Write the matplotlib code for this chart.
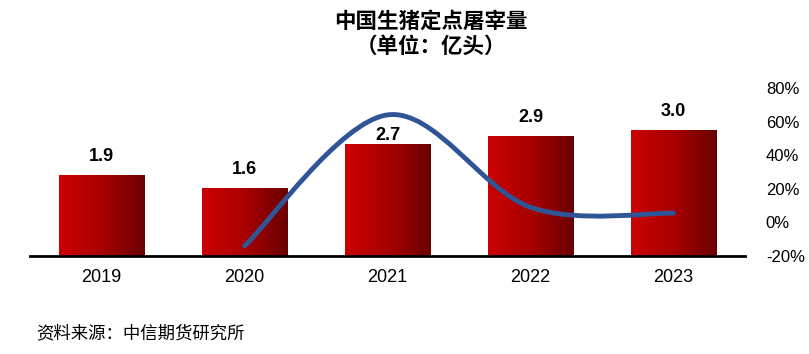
import numpy as np
import matplotlib
matplotlib.use("Agg")
import matplotlib.pyplot as plt
from matplotlib.path import Path
from matplotlib.patches import PathPatch
from matplotlib.colors import LinearSegmentedColormap
from matplotlib.ticker import FuncFormatter

plt.rcParams["font.family"] = ["Liberation Sans", "Noto Sans CJK SC", "DejaVu Sans"]

years = ["2019", "2020", "2021", "2022", "2023"]
slaughter = [1.93, 1.63, 2.67, 2.86, 3.0]
bar_labels = ["1.9", "1.6", "2.7", "2.9", "3.0"]
growth_years = ["2020", "2021", "2022", "2023"]
growth = [-0.14, 0.64, 0.09, 0.055]
pct_ticks = [-0.2, 0.0, 0.2, 0.4, 0.6, 0.8]

fig = plt.figure(figsize=(8.09, 3.54), dpi=100)
ax = fig.add_axes([30 / 809, 98 / 354, 715 / 809, 168 / 354])
ax2 = ax.twinx()

x = np.arange(len(years))
bars = ax.bar(x, slaughter, width=0.6, color="none", edgecolor="none", zorder=2)

# gradient fill clipped to each bar
red_grad = LinearSegmentedColormap.from_list("redgrad", ["#cc0000", "#a80000", "#6a0000"])
grad = np.linspace(0, 1, 256).reshape(1, -1)
for b in bars:
    x0, w, h = b.get_x(), b.get_width(), b.get_height()
    im = ax.imshow(grad, cmap=red_grad, aspect="auto", extent=[x0, x0 + w, 0, h], zorder=2)
    im.set_clip_path(b)

ax.set_xlim(-0.5, len(years) - 0.5)
ax.set_ylim(0, 4)
ax.set_xticks(x)
ax.set_xticklabels(years, fontsize=13)
ax.tick_params(axis="x", length=0, pad=9)
ax.set_yticks([])
for side in ["left", "right", "top"]:
    ax.spines[side].set_visible(False)
ax.spines["bottom"].set_linewidth(2)
ax.spines["bottom"].set_zorder(5)

offsets = [7, 7, 0, 7, 7]
for b, lab, off in zip(bars, bar_labels, offsets):
    ax.annotate(lab, (b.get_x() + b.get_width() / 2, b.get_height()),
                xytext=(0, off), textcoords="offset points",
                ha="center", va="bottom", fontsize=13, fontweight="bold", zorder=4)

# smoothed growth line (Catmull-Rom style Bezier, like Excel smoothing)
gx = np.array([years.index(y) for y in growth_years], dtype=float)
gy = np.array(growth)
pts = np.column_stack([gx, gy])
verts = [pts[0]]
codes = [Path.MOVETO]
n = len(pts)
for i in range(n - 1):
    p_prev = pts[i - 1] if i > 0 else pts[i]
    p_next2 = pts[i + 2] if i + 2 < n else pts[i + 1]
    c1 = pts[i] + (pts[i + 1] - p_prev) / 6
    c2 = pts[i + 1] - (p_next2 - pts[i]) / 6
    verts += [c1, c2, pts[i + 1]]
    codes += [Path.CURVE4] * 3
ax2.add_patch(PathPatch(Path(verts, codes), facecolor="none", edgecolor="#2f5597",
                        linewidth=3.5, capstyle="round", zorder=3))

ax2.set_ylim(-0.2, 0.8)
ax2.set_yticks(pct_ticks)
ax2.yaxis.set_major_formatter(FuncFormatter(lambda v, p: f"{v * 100:.0f}%"))
ax2.tick_params(axis="y", length=0, pad=15, labelsize=12)
for side in ["left", "right", "top", "bottom"]:
    ax2.spines[side].set_visible(False)

fig.text(0.533, 0.94, "中国生猪定点屠宰量", ha="center", va="center", fontsize=15.5,
         fontweight="bold", family=["Noto Sans CJK SC"])
fig.text(0.533, 0.87, "（单位：亿头）", ha="center", va="center", fontsize=15.5,
         fontweight="bold", family=["Noto Sans CJK SC"])
fig.text(36 / 809, 1 - 333 / 354, "资料来源：中信期货研究所", ha="left", va="center",
         fontsize=12.5, style="italic", family=["Noto Sans CJK SC"])

fig.savefig("out.png", dpi=100)
